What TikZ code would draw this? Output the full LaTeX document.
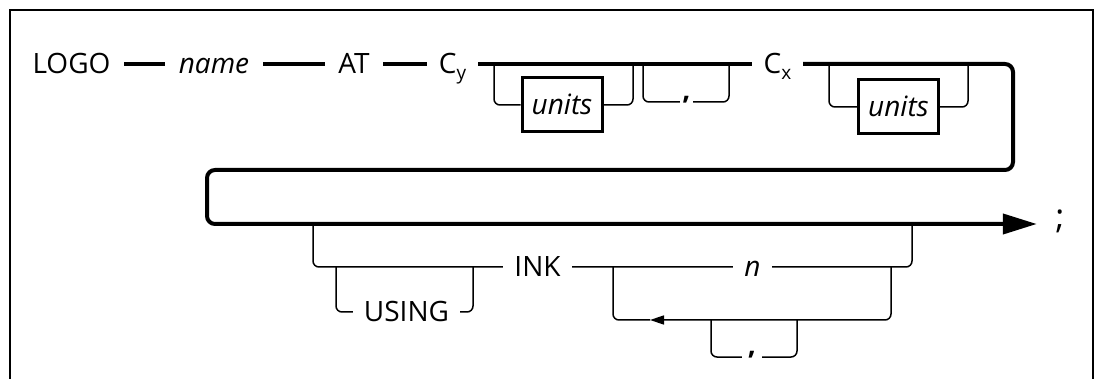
\documentclass[tikz,border=0pt]{standalone}
\usepackage{fontspec}
\setmainfont{Open Sans}
\usetikzlibrary{shapes,arrows,arrows.meta,positioning,calc}

\begin{document}
\begin{tikzpicture}[x=1pt, y=-1pt,
    word/.style={inner sep=0pt, text height=20pt, text depth=0pt, font=\fontsize{28}{32}\selectfont},
    var/.style={word, font=\fontsize{28}{32}\selectfont\itshape},
    unitbox/.style={var, draw, line width=3pt, minimum width=80pt, minimum height=54pt},
    sepsym/.style={word, text height=0pt, text depth=4pt, font=\fontsize{28}{32}\selectfont\bfseries},
    heavy/.style={line width=4pt, rounded corners=8pt},
    light/.style={line width=1.5pt, rounded corners=6pt}]

\useasboundingbox (0,0) rectangle (1095,379);
\draw[line width=2pt] (10,379) -- (10,10) -- (1093,10) -- (1093,379);

% first line
\node[word, minimum width=105pt] (logo) at (71.5,64) {LOGO};
\node[var, minimum width=98pt] (name) at (214,64) {name};
\node[word, minimum width=58pt] (at) at (354,64) {AT};
\node[word, minimum width=51pt] (cy) at (452.5,64) {C\raisebox{-6pt}{\fontsize{19}{22}\selectfont y}};
\node[word, minimum width=51pt] (cx) at (777.5,64) {C\raisebox{-6pt}{\fontsize{19}{22}\selectfont x}};
\node[unitbox] (unitsA) at (562,105) {units};
\node[sepsym, minimum width=13pt] (comA) at (686.5,102) {,};
\node[unitbox] (unitsB) at (898.5,107) {units};

% second line
\node[word, text height=9pt, minimum width=46pt, font=\fontsize{34}{38}\selectfont] (semi) at (1060,224) {;};
\node[word, minimum width=69pt] (ink) at (537.5,267) {INK};
\node[word, minimum width=107pt] (using) at (406.5,312) {USING};
\node[var, minimum width=39pt] (n) at (752.5,267) {n};
\node[sepsym, minimum width=20pt] (comB) at (752,357) {,};

% branch points
\coordinate (uAin) at (494,64);   \coordinate (uAout) at (633,64);
\coordinate (cAin) at (643,64);   \coordinate (cAout) at (729,64);
\coordinate (uBin) at (829,64);   \coordinate (uBout) at (968,64);
\coordinate (wrapR) at (1013,170); \coordinate (wrapL) at (207,170);
\coordinate (inkIn) at (313,224); \coordinate (inkOut) at (912,224);
\coordinate (skipIn) at (336,267); \coordinate (skipOut) at (473,267);
\coordinate (loopL) at (613,267); \coordinate (loopR) at (891,267);
\coordinate (loopTip) at (650,320);
\coordinate (sepIn) at (711,320); \coordinate (sepOut) at (797,320);

\draw[heavy] (logo) -- (name);
\draw[heavy] (name) -- (at);
\draw[heavy] (at) -- (cy);
\draw[heavy] (cy) -- (cx);
\draw[heavy, -{Triangle[length=34pt,width=20pt]}] (cx) -| (wrapR) -- (wrapL) |- (semi);

\draw[light] (uAin) |- (unitsA) -| (uAout);
\draw[light] (cAin) |- (comA) -| (cAout);
\draw[light] (uBin) |- (unitsB) -| (uBout);

\draw[light] (inkIn) |- (ink) -- (n) -| (inkOut);
\draw[light] (skipIn) |- (using) -| (skipOut);
\draw[light, -{Triangle[length=14pt,width=9pt]}] (loopR) |- (loopTip);
\draw[light] (loopTip) -| (loopL);
\draw[light] (sepIn) |- (comB) -| (sepOut);
\end{tikzpicture}
\end{document}
